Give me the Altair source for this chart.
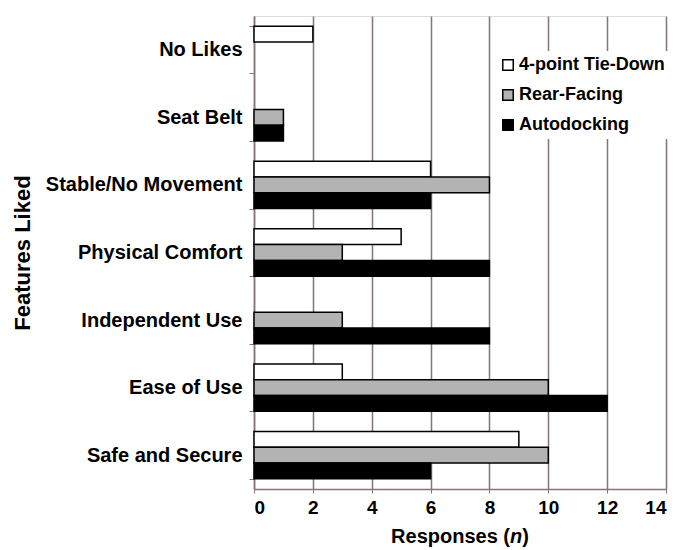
import altair as alt
import pandas as pd

categories = ["No Likes", "Seat Belt", "Stable/No Movement", "Physical Comfort",
              "Independent Use", "Ease of Use", "Safe and Secure"]
series = ["4-point Tie-Down", "Rear-Facing", "Autodocking"]
tie_down = [2, 0, 6, 5, 0, 3, 9]
rear_facing = [0, 1, 8, 3, 3, 10, 10]
autodocking = [0, 1, 6, 8, 8, 12, 6]
x_ticks = [0, 2, 4, 6, 8, 10, 12, 14]
x_title_parts = ["Responses (", "n", ")"]

rows = []
for s, vals in zip(series, [tie_down, rear_facing, autodocking]):
    for c, v in zip(categories, vals):
        if v > 0:
            rows.append({"feature": c, "series": s, "value": v})
df = pd.DataFrame(rows)

FONT = "Liberation Sans"
GRID = "#857575"
W, H = 412, 473

bars = alt.Chart(df).mark_bar(stroke="black", strokeWidth=1.5).encode(
    y=alt.Y("feature:N", sort=categories,
            scale=alt.Scale(domain=categories, paddingInner=0.3, paddingOuter=0.15),
            axis=alt.Axis(title="Features Liked", titleFontSize=22, titleFont=FONT,
                          titleFontWeight="bold", titleColor="black", titlePadding=20,
                          labelFont=FONT, labelFontSize=20, labelFontWeight="bold",
                          labelColor="black", labelPadding=7, labelLimit=400,
                          tickBand="extent", tickSize=5, tickColor=GRID,
                          domainColor=GRID, domainWidth=1.5, grid=False)),
    yOffset=alt.YOffset("series:N", sort=series,
                        scale=alt.Scale(domain=series, paddingInner=0, paddingOuter=0)),
    x=alt.X("value:Q", scale=alt.Scale(domain=[0, 14], nice=False),
            axis=alt.Axis(title=None, values=x_ticks, labelFont=FONT, labelFontSize=19,
                          labelFontWeight="bold", labelColor="black", labelPadding=5,
                          tickSize=4, tickColor=GRID, domainColor=GRID, domainWidth=1.5,
                          gridColor=GRID, gridWidth=1.5, gridOpacity=1)),
    color=alt.Color("series:N", sort=series,
                    scale=alt.Scale(domain=series, range=["#ffffff", "#b3b3b3", "#000000"]),
                    legend=alt.Legend(title=None, orient="none", legendX=240, legendY=35,
                                      fillColor="white", padding=5, symbolType="square",
                                      symbolSize=110, symbolStrokeColor="black",
                                      symbolStrokeWidth=1.5, labelFont=FONT,
                                      labelFontSize=18, labelFontWeight="bold",
                                      labelColor="black", rowPadding=12, labelOffset=2)),
)

# x-axis title with italic "n"
widths = [118.9, 12.2, 6.7]
start = W / 2 - sum(widths) / 2
xs = [start, start + widths[0], start + widths[0] + widths[1]]
title_layers = []
for part, xpos, style in zip(x_title_parts, xs, ["normal", "italic", "normal"]):
    title_layers.append(
        alt.Chart(pd.DataFrame({"t": [part]})).mark_text(
            font=FONT, fontSize=20, fontWeight="bold", fontStyle=style,
            align="left", baseline="middle", color="black"
        ).encode(text="t:N", x=alt.value(xpos), y=alt.value(H + 48))
    )

chart = alt.layer(bars, *title_layers).properties(
    width=W, height=H,
    autosize=alt.AutoSizeParams(type="none"),
    padding={"left": 246, "top": 8, "right": 2, "bottom": 60},
).configure_view(stroke=None).configure(background="white")

chart.save("out.html", embed_options={"renderer": "svg", "actions": False})
